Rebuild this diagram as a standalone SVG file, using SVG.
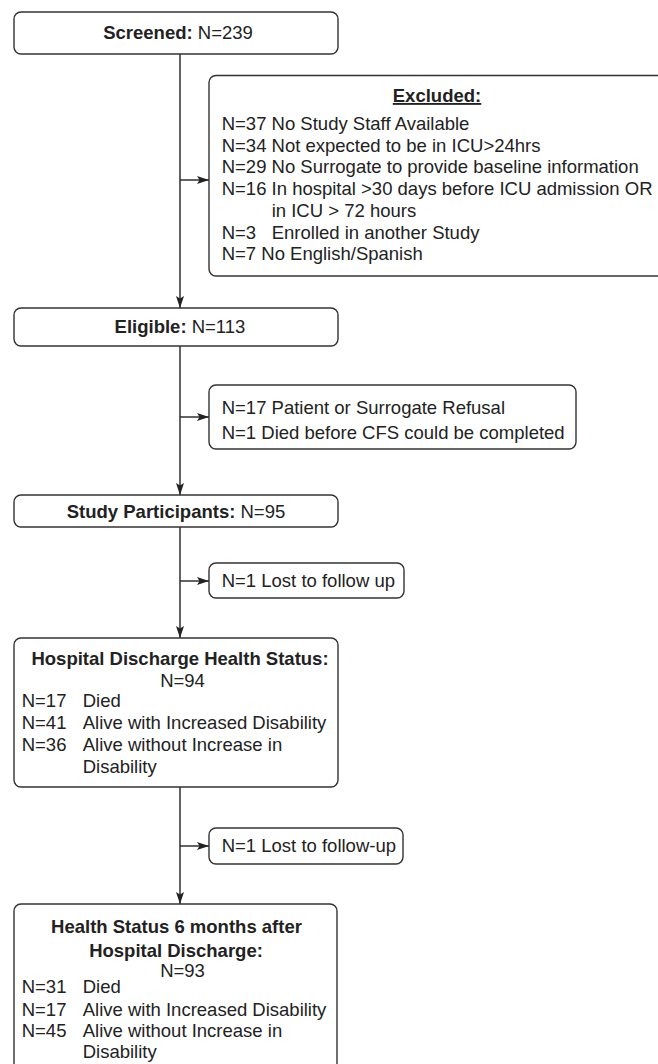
<svg xmlns="http://www.w3.org/2000/svg" width="658" height="1064" viewBox="0 0 658 1064">
<defs>
<style>
.box{fill:#fff;stroke:#333;stroke-width:1.4}
.t{font-family:"Liberation Sans",Arial,sans-serif;font-size:18.5px;fill:#222}
.b{font-weight:bold}
.c{text-anchor:middle}
.ln{stroke:#222;stroke-width:1.4;fill:none}
</style>
<marker id="ah" viewBox="0 0 12 8" refX="12" refY="4" markerWidth="12" markerHeight="8" markerUnits="userSpaceOnUse" orient="auto">
<path d="M0,0 L12,4 L0,8 L2.5,4 z" fill="#222"/>
</marker>
</defs>
<rect width="658" height="1064" fill="#fff"/>
<g id="connectors">
<line class="ln" x1="180" y1="54" x2="180" y2="308" marker-end="url(#ah)"/>
<line class="ln" x1="180" y1="180" x2="209" y2="180" marker-end="url(#ah)"/>
<line class="ln" x1="180" y1="346" x2="180" y2="495" marker-end="url(#ah)"/>
<line class="ln" x1="180" y1="417" x2="209" y2="417" marker-end="url(#ah)"/>
<line class="ln" x1="180" y1="527" x2="180" y2="638" marker-end="url(#ah)"/>
<line class="ln" x1="180" y1="581" x2="209" y2="581" marker-end="url(#ah)"/>
<line class="ln" x1="180" y1="787" x2="180" y2="904" marker-end="url(#ah)"/>
<line class="ln" x1="180" y1="846" x2="209" y2="846" marker-end="url(#ah)"/>
</g>
<g id="screened">
<rect class="box" x="14" y="12" width="324" height="42" rx="7"/>
<text class="t c" x="178" y="39"><tspan class="b">Screened:</tspan> N=239</text>
</g>
<g id="excluded">
<rect class="box" x="209" y="75.5" width="470" height="200.5" rx="7"/>
<text class="t c b" x="437" y="102" text-decoration="underline">Excluded:</text>
<text class="t" x="221.7" y="130">N=37 No Study Staff Available</text>
<text class="t" x="221.7" y="151.7">N=34 Not expected to be in ICU&gt;24hrs</text>
<text class="t" x="221.7" y="173.4">N=29 No Surrogate to provide baseline information</text>
<text class="t" x="221.7" y="195.1">N=16 In hospital &gt;30 days before ICU admission OR</text>
<text class="t" x="271.7" y="216.8">in ICU &gt; 72 hours</text>
<text class="t" x="221.7" y="238.5">N=3<tspan x="271.7">Enrolled in another Study</tspan></text>
<text class="t" x="221.7" y="260.2">N=7 No English/Spanish</text>
</g>
<g id="eligible">
<rect class="box" x="14" y="308" width="324" height="38" rx="7"/>
<text class="t c" x="180" y="333"><tspan class="b">Eligible:</tspan> N=113</text>
</g>
<g id="refusal">
<rect class="box" x="209" y="385" width="367" height="64" rx="7"/>
<text class="t" x="221.7" y="413.5">N=17 Patient or Surrogate Refusal</text>
<text class="t" x="221.7" y="438.5">N=1 Died before CFS could be completed</text>
</g>
<g id="participants">
<rect class="box" x="14" y="495" width="324" height="32" rx="7"/>
<text class="t c" x="176" y="517.5"><tspan class="b">Study Participants:</tspan> N=95</text>
</g>
<g id="lost1">
<rect class="box" x="209" y="563" width="195" height="35" rx="7"/>
<text class="t" x="221.7" y="586.5">N=1 Lost to follow up</text>
</g>
<g id="discharge">
<rect class="box" x="14" y="638" width="324" height="149" rx="7"/>
<text class="t c b" x="180" y="664.5">Hospital Discharge Health Status:</text>
<text class="t c" x="182.5" y="686.5">N=94</text>
<text class="t" x="21.7" y="707">N=17<tspan x="82.7">Died</tspan></text>
<text class="t" x="21.7" y="729">N=41<tspan x="82.7">Alive with Increased Disability</tspan></text>
<text class="t" x="21.7" y="750.5">N=36<tspan x="82.7">Alive without Increase in</tspan></text>
<text class="t" x="82.7" y="773">Disability</text>
</g>
<g id="lost2">
<rect class="box" x="209" y="828" width="194" height="36" rx="7"/>
<text class="t" x="221.7" y="852">N=1 Lost to follow-up</text>
</g>
<g id="sixmonths">
<rect class="box" x="14" y="904" width="323" height="180" rx="7"/>
<text class="t c b" x="176.5" y="932.5">Health Status 6 months after</text>
<text class="t c b" x="176" y="956.5">Hospital Discharge:</text>
<text class="t c" x="182.5" y="976.5">N=93</text>
<text class="t" x="21.7" y="993">N=31<tspan x="82.7">Died</tspan></text>
<text class="t" x="21.7" y="1015.5">N=17<tspan x="82.7">Alive with Increased Disability</tspan></text>
<text class="t" x="21.7" y="1037">N=45<tspan x="82.7">Alive without Increase in</tspan></text>
<text class="t" x="82.7" y="1058">Disability</text>
</g>
</svg>
